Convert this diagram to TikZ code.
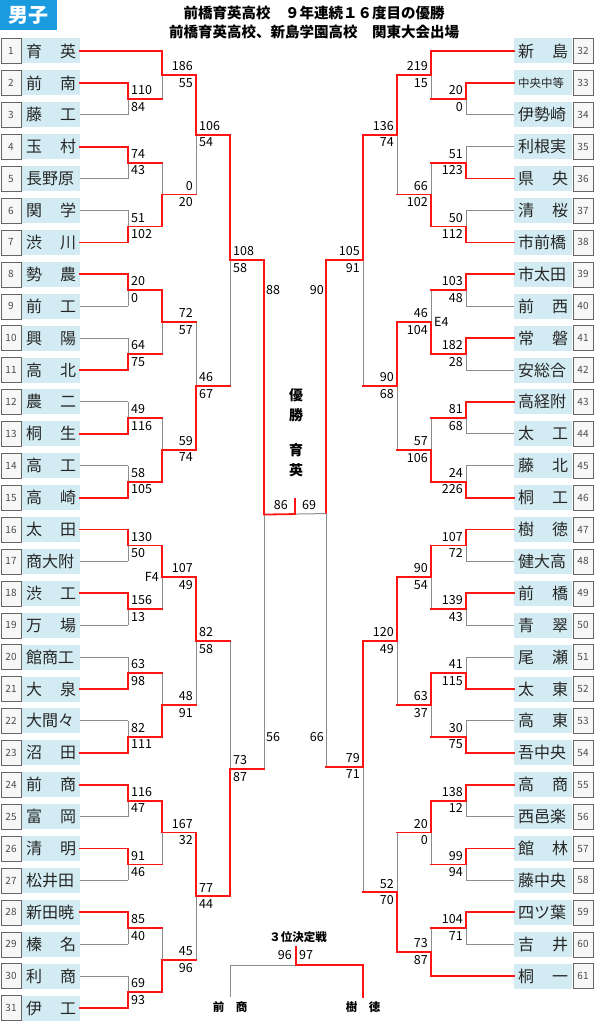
\documentclass[tikz,border=0pt]{standalone}
\usepackage{fontspec}
\setmainfont{Noto Sans CJK JP}
\usetikzlibrary{calc}

\definecolor{hdblue}{HTML}{1A9BE0}
\definecolor{namebg}{HTML}{D3ECF3}
\definecolor{winred}{HTML}{FF1414}
\definecolor{losegray}{HTML}{8C8C8C}

\tikzset{
  win/.style={winred, line width=1.8pt, line cap=rect},
  lose/.style={losegray, line width=1pt},
  arm/.style=win,
  sc/.style={font=\fontsize{12.5}{12.5}\selectfont, inner sep=1pt},
  topL/.style={anchor=south west, xshift=2pt, yshift=3pt},
  botL/.style={anchor=north west, xshift=2pt, yshift=-2pt},
  topLr/.style={anchor=south east, xshift=32pt, yshift=3pt},
  botLr/.style={anchor=north east, xshift=32pt, yshift=-2pt},
  topR/.style={anchor=south east, xshift=-2pt, yshift=3pt},
  botR/.style={anchor=north east, xshift=-2pt, yshift=-2pt},
  teamname/.style={fill=namebg, minimum width=58pt, minimum height=25pt, inner sep=0pt,
    font=\fontsize{16}{16}\selectfont, text=black!85},
  teamno/.style={draw=black!60, fill=black!3, minimum width=20pt, minimum height=25pt,
    inner sep=0pt, font=\fontsize{10}{10}\selectfont, text=black!70},
}

% one game: [label side] name, column, top, bottom, winner (1 top / 2 bottom), top score, bottom score
\newcommand{\bout}[8][L]{%
  \coordinate (#2y) at ($(#4)!.5!(#5)$);
  \coordinate (#2) at (#3 |- #2y);
  \ifnum#6=1
    \draw[lose] (#5 -| #2) -- (#2); \draw[arm] (#5) -- (#5 -| #2); \draw[win] (#4) -| (#2);
  \else
    \draw[lose] (#4 -| #2) -- (#2); \draw[arm] (#4) -- (#4 -| #2); \draw[win] (#5) -| (#2);
  \fi
  \node[sc, top#1] (#2t) at (#2) {#7};
  \node[sc, bot#1] (#2b) at (#2) {#8};
}

\begin{document}
\begin{tikzpicture}[x=1pt, y=-1pt]
  \useasboundingbox (0,0) rectangle (594,1024);

  % header
  \node[fill=hdblue, text=white, font=\fontsize{20}{20}\selectfont\bfseries, minimum width=57pt,
    minimum height=30pt, inner sep=0pt, anchor=north west] (sex) at (0,0) {男子};
  \node[font=\fontsize{14.5}{14.5}\selectfont\bfseries] (title1) at (314,13) {前橋育英高校　９年連続１６度目の優勝};
  \node[font=\fontsize{14.5}{14.5}\selectfont\bfseries] (title2) at (314,32) {前橋育英高校、新島学園高校　関東大会出場};

  % columns
  \coordinate (xL1) at (128,0); \coordinate (xL2) at (162,0); \coordinate (xL3) at (196,0);
  \coordinate (xL4) at (230,0); \coordinate (xL5) at (264,0);
  \coordinate (xR1) at (466,0); \coordinate (xR2) at (431,0); \coordinate (xR3) at (397,0);
  \coordinate (xR4) at (363,0); \coordinate (xR5) at (326,0);

  % teams
  \foreach \nm [count=\i] in {育 英, 前 南, 藤 工, 玉 村, 長野原, 関 学, 渋 川, 勢 農, 前 工, 興 陽,
      高 北, 農 二, 桐 生, 高 工, 高 崎, 太 田, 商大附, 渋 工, 万 場, 館商工, 大 泉, 大間々, 沼 田,
      前 商, 富 岡, 清 明, 松井田, 新田暁, 榛 名, 利 商, 伊 工} {
    \node[teamno] (n\i) at (11, {51+(\i-1)*31.9}) {\i};
    \node[teamname] (t\i) at (51, {51+(\i-1)*31.9}) {\makebox[50pt][s]{\nm}};
  }
  \foreach \nm [count=\i from 32] in {新 島, {\fontsize{11.5}{11.5}\selectfont 中央中等}, 伊勢崎, 利根実,
      県 央, 清 桜, 市前橋, 市太田, 前 西, 常 磐, 安総合, 高経附, 太 工, 藤 北, 桐 工, 樹 徳, 健大高,
      前 橋, 青 翠, 尾 瀬, 太 東, 高 東, 吾中央, 高 商, 西邑楽, 館 林, 藤中央, 四ツ葉, 吉 井, 桐 一} {
    \node[teamno] (n\i) at (583, {51+(\i-32)*31.9}) {\i};
    \node[teamname] (t\i) at (543, {51+(\i-32)*31.9}) {\makebox[50pt][s]{\nm}};
  }

  % first round
  \begin{scope}[arm/.style=lose]
    \bout{la1}{xL1}{t2.east}{t3.east}{1}{110}{84}
    \bout{la2}{xL1}{t4.east}{t5.east}{1}{74}{43}
    \bout{la3}{xL1}{t6.east}{t7.east}{2}{51}{102}
    \bout{la4}{xL1}{t8.east}{t9.east}{1}{20}{0}
    \bout{la5}{xL1}{t10.east}{t11.east}{2}{64}{75}
    \bout{la6}{xL1}{t12.east}{t13.east}{2}{49}{116}
    \bout{la7}{xL1}{t14.east}{t15.east}{2}{58}{105}
    \bout{la8}{xL1}{t16.east}{t17.east}{1}{130}{50}
    \bout{la9}{xL1}{t18.east}{t19.east}{1}{156}{13}
    \bout{la10}{xL1}{t20.east}{t21.east}{2}{63}{98}
    \bout{la11}{xL1}{t22.east}{t23.east}{2}{82}{111}
    \bout{la12}{xL1}{t24.east}{t25.east}{1}{116}{47}
    \bout{la13}{xL1}{t26.east}{t27.east}{1}{91}{46}
    \bout{la14}{xL1}{t28.east}{t29.east}{1}{85}{40}
    \bout{la15}{xL1}{t30.east}{t31.east}{2}{69}{93}

    \bout[R]{ra1}{xR1}{t33.west}{t34.west}{1}{20}{0}
    \bout[R]{ra2}{xR1}{t35.west}{t36.west}{2}{51}{123}
    \bout[R]{ra3}{xR1}{t37.west}{t38.west}{2}{50}{112}
    \bout[R]{ra4}{xR1}{t39.west}{t40.west}{1}{103}{48}
    \bout[R]{ra5}{xR1}{t41.west}{t42.west}{1}{182}{28}
    \bout[R]{ra6}{xR1}{t43.west}{t44.west}{1}{81}{68}
    \bout[R]{ra7}{xR1}{t45.west}{t46.west}{2}{24}{226}
    \bout[R]{ra8}{xR1}{t47.west}{t48.west}{1}{107}{72}
    \bout[R]{ra9}{xR1}{t49.west}{t50.west}{1}{139}{43}
    \bout[R]{ra10}{xR1}{t51.west}{t52.west}{2}{41}{115}
    \bout[R]{ra11}{xR1}{t53.west}{t54.west}{2}{30}{75}
    \bout[R]{ra12}{xR1}{t55.west}{t56.west}{1}{138}{12}
    \bout[R]{ra13}{xR1}{t57.west}{t58.west}{1}{99}{94}
    \bout[R]{ra14}{xR1}{t59.west}{t60.west}{1}{104}{71}
  \end{scope}

  % second round
  \bout[Lr]{lb1}{xL2}{t1.east}{la1}{1}{186}{55}
  \bout[Lr]{lb2}{xL2}{la2}{la3}{2}{0}{20}
  \bout[Lr]{lb3}{xL2}{la4}{la5}{1}{72}{57}
  \bout[Lr]{lb4}{xL2}{la6}{la7}{2}{59}{74}
  \bout[Lr]{lb5}{xL2}{la8}{la9}{1}{107}{49}
  \bout[Lr]{lb6}{xL2}{la10}{la11}{2}{48}{91}
  \bout[Lr]{lb7}{xL2}{la12}{la13}{1}{167}{32}
  \bout[Lr]{lb8}{xL2}{la14}{la15}{2}{45}{96}
  \node[sc, anchor=east] (f4) at ([xshift=-2pt]lb5) {F4};

  \bout[R]{rb1}{xR2}{t32.west}{ra1}{1}{219}{15}
  \bout[R]{rb2}{xR2}{ra2}{ra3}{2}{66}{102}
  \bout[R]{rb3}{xR2}{ra4}{ra5}{2}{46}{104}
  \bout[R]{rb4}{xR2}{ra6}{ra7}{2}{57}{106}
  \bout[R]{rb5}{xR2}{ra8}{ra9}{1}{90}{54}
  \bout[R]{rb6}{xR2}{ra10}{ra11}{1}{63}{37}
  \bout[R]{rb7}{xR2}{ra12}{ra13}{1}{20}{0}
  \bout[R]{rb8}{xR2}{ra14}{t61.west}{2}{73}{87}
  \node[sc, anchor=west] (e4) at ([xshift=2pt]rb3) {E4};

  % third round
  \bout{lc1}{xL3}{lb1}{lb2}{1}{106}{54}
  \bout{lc2}{xL3}{lb3}{lb4}{2}{46}{67}
  \bout{lc3}{xL3}{lb5}{lb6}{1}{82}{58}
  \bout{lc4}{xL3}{lb7}{lb8}{1}{77}{44}
  \bout[R]{rc1}{xR3}{rb1}{rb2}{1}{136}{74}
  \bout[R]{rc2}{xR3}{rb3}{rb4}{1}{90}{68}
  \bout[R]{rc3}{xR3}{rb5}{rb6}{1}{120}{49}
  \bout[R]{rc4}{xR3}{rb7}{rb8}{2}{52}{70}

  % quarter finals
  \bout{ld1}{xL4}{lc1}{lc2}{1}{108}{58}
  \bout{ld2}{xL4}{lc3}{lc4}{2}{73}{87}
  \bout[R]{rd1}{xR4}{rc1}{rc2}{1}{105}{91}
  \bout[R]{rd2}{xR4}{rc3}{rc4}{1}{79}{71}

  % semi finals
  \bout{le}{xL5}{ld1}{ld2}{1}{}{}
  \bout[R]{re}{xR5}{rd1}{rd2}{1}{}{}
  \node[sc, anchor=west] (le88) at (265,290) {88};
  \node[sc, anchor=west] (le56) at (265,737) {56};
  \node[sc, anchor=east] (re90) at (325,290) {90};
  \node[sc, anchor=east] (re66) at (325,737) {66};

  % final
  \coordinate (fin) at ($(le)!.5!(re)$);
  \draw[lose] (re) -- (fin);
  \draw[win] (le) -- (fin) -- ++(0,-15) coordinate (fintop);
  \node[sc, anchor=south east] (fin86) at ([xshift=-6pt, yshift=3pt]fin) {86};
  \node[sc, anchor=south west] (fin69) at ([xshift=6pt, yshift=3pt]fin) {69};
  \node[font=\fontsize{14}{20}\selectfont\bfseries, align=center, inner sep=0pt] (champ) at (296,433)
    {優\\勝\\[15pt]育\\英};

  % third place
  \node[font=\fontsize{11.5}{11.5}\selectfont\bfseries] (third) at (298,937) {３位決定戦};
  \coordinate (p3m) at (296,965);
  \node[font=\fontsize{11.5}{11.5}\selectfont\bfseries, inner sep=4pt] (p3a) at (230,1007) {前　商};
  \node[font=\fontsize{11.5}{11.5}\selectfont\bfseries, inner sep=4pt] (p3b) at (363,1007) {樹　徳};
  \draw[lose] (p3a.north) |- (p3m);
  \draw[win] (p3b.north) |- (p3m) -- ++(0,-18) coordinate (p3top);
  \node[sc, anchor=south east] (p3sa) at ([xshift=-3pt, yshift=4pt]p3m) {96};
  \node[sc, anchor=south west] (p3sb) at ([xshift=2pt, yshift=4pt]p3m) {97};
\end{tikzpicture}
\end{document}
